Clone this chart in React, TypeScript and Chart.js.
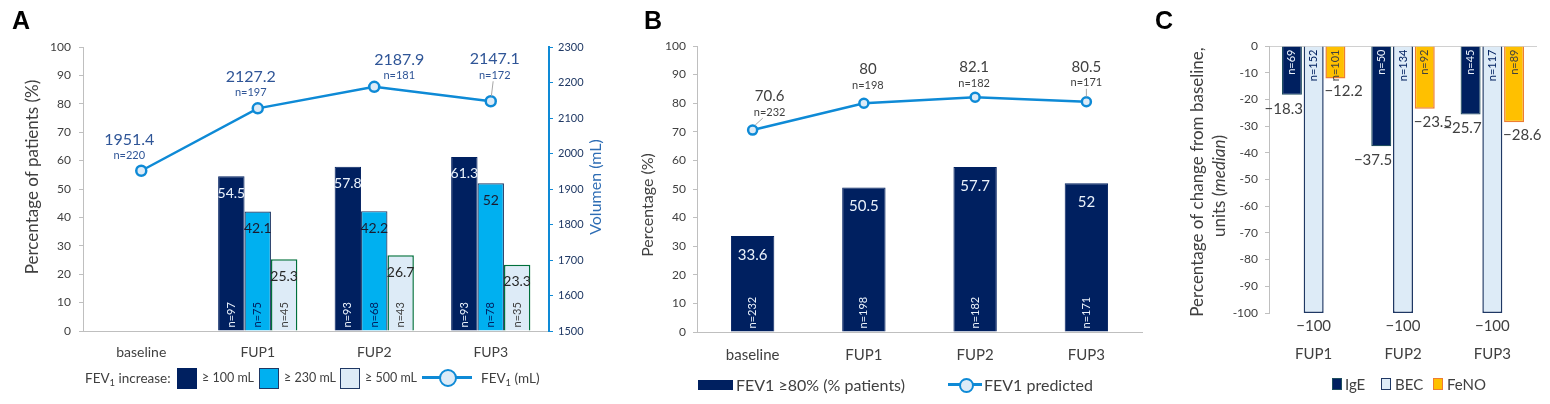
import { useEffect, useRef } from "react";
import Chart from "chart.js/auto";

const FONT = "Lato, 'Noto Sans', sans-serif";
const NAVY = "#002060";
const CYAN = "#00B0F0";
const PALE = "#DDEBF7";
const GREEN = "#00703C";
const BLUE = "#0E8AD6";
const ORANGE = "#FFC000";
const ORANGE_EDGE = "#ED7D31";
const AXIS = "#BFBFBF";
const TEXT = "#404040";
const NTEXT = "#2F5597";

Chart.defaults.font.family = FONT;

// panel A
const visits = ["baseline", "FUP1", "FUP2", "FUP3"];
const fev1Ml = [1951.4, 2127.2, 2187.9, 2147.1];
const fev1MlN = [220, 197, 181, 172];
const inc100 = [null, 54.5, 57.8, 61.3];
const inc100N = [null, 97, 93, 93];
const inc230 = [null, 42.1, 42.2, 52];
const inc230N = [null, 75, 68, 78];
const inc500 = [null, 25.3, 26.7, 23.3];
const inc500N = [null, 45, 43, 35];

// panel B
const fev80 = [33.6, 50.5, 57.7, 52];
const fev80N = [232, 198, 182, 171];
const fevPred = [70.6, 80, 82.1, 80.5];
const fevPredN = [232, 198, 182, 171];

// panel C
const fups = ["FUP1", "FUP2", "FUP3"];
const ige = [-18.3, -37.5, -25.7];
const igeN = [69, 50, 45];
const bec = [-100, -100, -100];
const becN = [152, 134, 117];
const feno = [-12.2, -23.5, -28.6];
const fenoN = [101, 92, 89];

// label placement next to line points (px from the point)
const volLabelShift = [[-12, -31], [-7, -32], [25, -27], [4, -42]];
const volLeader = [false, false, false, true];
const predLabelShift = [[17, -34], [4, -34], [-1, -30], [0, -35]];
const predLeader = [true, false, false, true];

const plain = (v: any) => String(v);

function vText(ctx: CanvasRenderingContext2D, text: string, x: number, y: number, align: CanvasTextAlign) {
  ctx.save();
  ctx.translate(x, y);
  ctx.rotate(-Math.PI / 2);
  ctx.textAlign = align;
  ctx.textBaseline = "middle";
  ctx.fillText(text, 0, 0);
  ctx.restore();
}

function pointLabels(chart: any, dsIndex: number, nList: number[], shift: number[][], leader: boolean[], color: string, size: number) {
  const ctx = chart.ctx;
  const values = chart.data.datasets[dsIndex].data;
  chart.getDatasetMeta(dsIndex).data.forEach((pt: any, i: number) => {
    const lx = pt.x + shift[i][0];
    const ly = pt.y + shift[i][1];
    ctx.fillStyle = color;
    ctx.textAlign = "center";
    ctx.textBaseline = "middle";
    ctx.font = `${size}px ${FONT}`;
    ctx.fillText(String(values[i]), lx, ly);
    ctx.font = `11px ${FONT}`;
    ctx.fillText(`n=${nList[i]}`, lx, ly + 16);
    if (leader[i]) {
      ctx.strokeStyle = "#A6A6A6";
      ctx.lineWidth = 1;
      ctx.beginPath();
      ctx.moveTo(lx + (pt.x - lx) * 0.4, ly + 22);
      ctx.lineTo(pt.x + (lx - pt.x) * 0.15, pt.y - 5);
      ctx.stroke();
    }
  });
}

const panelAMarks = {
  id: "panelAMarks",
  afterDatasetsDraw(chart: any) {
    const ctx = chart.ctx;
    ctx.save();
    const bars = [
      { idx: 1, n: inc100N, color: "#EAF2FB", ncolor: "#EAF2FB" },
      { idx: 2, n: inc230N, color: "#1A1A2E", ncolor: NAVY },
      { idx: 3, n: inc500N, color: "#262626", ncolor: TEXT },
    ];
    bars.forEach((b) => {
      const values = chart.data.datasets[b.idx].data;
      chart.getDatasetMeta(b.idx).data.forEach((el: any, i: number) => {
        if (values[i] == null) return;
        ctx.fillStyle = b.color;
        ctx.font = `14px ${FONT}`;
        ctx.textAlign = "center";
        ctx.textBaseline = "middle";
        ctx.fillText(String(values[i]), el.x, el.y + 17);
        ctx.fillStyle = b.ncolor;
        ctx.font = `11px ${FONT}`;
        vText(ctx, `n=${b.n[i]}`, el.x, el.base - 3, "left");
      });
    });
    pointLabels(chart, 0, fev1MlN, volLabelShift, volLeader, NTEXT, 16);
    ctx.fillStyle = TEXT;
    ctx.font = `17px ${FONT}`;
    vText(ctx, "Percentage of patients (%)", 33, 177, "center");
    ctx.fillStyle = "#2E6DB4";
    ctx.font = `16px ${FONT}`;
    vText(ctx, "Volumen (mL)", 596, 187, "center");
    ctx.restore();
  },
};

const panelBMarks = {
  id: "panelBMarks",
  afterDatasetsDraw(chart: any) {
    const ctx = chart.ctx;
    ctx.save();
    const values = chart.data.datasets[1].data;
    chart.getDatasetMeta(1).data.forEach((el: any, i: number) => {
      ctx.fillStyle = "#EAF2FB";
      ctx.font = `15px ${FONT}`;
      ctx.textAlign = "center";
      ctx.textBaseline = "middle";
      ctx.fillText(String(values[i]), el.x, el.y + 19);
      ctx.font = `11px ${FONT}`;
      vText(ctx, `n=${fev80N[i]}`, el.x, el.base - 3, "left");
    });
    pointLabels(chart, 0, fevPredN, predLabelShift, predLeader, TEXT, 15);
    ctx.fillStyle = TEXT;
    ctx.font = `16px ${FONT}`;
    vText(ctx, "Percentage (%)", 48, 205, "center");
    ctx.restore();
  },
};

const panelCMarks = {
  id: "panelCMarks",
  afterDatasetsDraw(chart: any) {
    const ctx = chart.ctx;
    ctx.save();
    const specs = [
      { idx: 0, n: igeN, ncolor: "#EAF2FB", side: "right" },
      { idx: 1, n: becN, ncolor: NAVY, side: "center" },
      { idx: 2, n: fenoN, ncolor: TEXT, side: "left" },
    ];
    specs.forEach((s) => {
      const values = chart.data.datasets[s.idx].data;
      chart.getDatasetMeta(s.idx).data.forEach((el: any, i: number) => {
        const txt = "\u2212" + Math.abs(values[i]);
        ctx.fillStyle = TEXT;
        ctx.font = `15px ${FONT}`;
        ctx.textBaseline = "middle";
        if (s.side === "right") {
          ctx.textAlign = "right";
          ctx.fillText(txt, el.x + el.width / 2 + 1, el.y + 14);
        } else if (s.side === "left") {
          ctx.textAlign = "left";
          ctx.fillText(txt, el.x - el.width / 2 - 1, el.y + 13);
        } else {
          ctx.textAlign = "center";
          ctx.fillText(txt, el.x, el.y + 13);
        }
        ctx.fillStyle = s.ncolor;
        ctx.font = `11px ${FONT}`;
        vText(ctx, `n=${s.n[i]}`, el.x, el.base + 3, "right");
      });
    });
    // two-line y title with italic "median"
    ctx.fillStyle = TEXT;
    ctx.font = `17px ${FONT}`;
    vText(ctx, "Percentage of change from baseline,", 48, 182, "center");
    const parts = [
      { t: "units (", f: `17px ${FONT}` },
      { t: "median", f: `italic 17px ${FONT}` },
      { t: ")", f: `17px ${FONT}` },
    ];
    let total = 0;
    parts.forEach((p) => {
      ctx.font = p.f;
      total += ctx.measureText(p.t).width;
    });
    ctx.save();
    ctx.translate(70, 186);
    ctx.rotate(-Math.PI / 2);
    ctx.textAlign = "left";
    ctx.textBaseline = "middle";
    let x = -total / 2;
    parts.forEach((p) => {
      ctx.font = p.f;
      ctx.fillText(p.t, x, 0);
      x += ctx.measureText(p.t).width;
    });
    ctx.restore();
    ctx.restore();
  },
};

function makeA(): any {
  return {
    type: "bar",
    data: {
      labels: visits,
      datasets: [
        {
          type: "line", label: "FEV1 (mL)", data: fev1Ml, yAxisID: "yVol", order: 0,
          borderColor: BLUE, borderWidth: 2.5, pointRadius: 5, pointBorderWidth: 2.5,
          pointBackgroundColor: PALE, pointBorderColor: BLUE,
        },
        { label: "≥ 100 mL", data: inc100, yAxisID: "y", order: 1, backgroundColor: NAVY, borderColor: NAVY, borderWidth: 1 },
        { label: "≥ 230 mL", data: inc230, yAxisID: "y", order: 1, backgroundColor: CYAN, borderColor: "#1F3864", borderWidth: 1.2 },
        { label: "≥ 500 mL", data: inc500, yAxisID: "y", order: 1, backgroundColor: PALE, borderColor: GREEN, borderWidth: 1.5 },
      ],
    },
    options: {
      animation: false,
      responsive: true,
      maintainAspectRatio: false,
      layout: { padding: { top: 47, left: 0, right: 0, bottom: 0 } },
      plugins: { legend: { display: false }, tooltip: { enabled: false } },
      datasets: { bar: { categoryPercentage: 0.68, barPercentage: 1 } },
      scales: {
        x: {
          grid: { display: false },
          border: { color: AXIS },
          ticks: { color: TEXT, font: { size: 14 }, padding: 5 },
          afterFit: (s: any) => { s.height = 39; },
        },
        y: {
          position: "left", min: 0, max: 100,
          ticks: { stepSize: 10, color: TEXT, font: { size: 12 }, padding: 8, callback: plain },
          grid: { drawOnChartArea: false, tickLength: 4, color: AXIS },
          border: { color: AXIS },
          afterFit: (s: any) => { s.width = 83; },
        },
        yVol: {
          position: "right", min: 1500, max: 2300,
          ticks: { stepSize: 100, color: "#1F3864", font: { size: 11 }, padding: 5, callback: plain },
          grid: { drawOnChartArea: false, tickLength: 4, color: BLUE },
          border: { color: BLUE, width: 2 },
          afterFit: (s: any) => { s.width = 71; },
        },
      },
    },
    plugins: [panelAMarks],
  };
}

function makeB(): any {
  return {
    type: "bar",
    data: {
      labels: visits,
      datasets: [
        {
          type: "line", label: "FEV1 predicted", data: fevPred, order: 0,
          borderColor: BLUE, borderWidth: 2.5, pointRadius: 4.5, pointBorderWidth: 2.5,
          pointBackgroundColor: PALE, pointBorderColor: BLUE,
        },
        { label: "FEV1 ≥80% (% patients)", data: fev80, order: 1, backgroundColor: NAVY, borderColor: NAVY, borderWidth: 1 },
      ],
    },
    options: {
      animation: false,
      responsive: true,
      maintainAspectRatio: false,
      layout: { padding: { top: 46, left: 0, right: 18, bottom: 0 } },
      plugins: { legend: { display: false }, tooltip: { enabled: false } },
      datasets: { bar: { categoryPercentage: 0.39, barPercentage: 1 } },
      scales: {
        x: {
          grid: { display: false },
          border: { color: AXIS },
          ticks: { color: TEXT, font: { size: 15 }, padding: 6 },
          afterFit: (s: any) => { s.height = 38; },
        },
        y: {
          min: 0, max: 100,
          ticks: { stepSize: 10, color: TEXT, font: { size: 12 }, padding: 7, callback: plain },
          grid: { drawOnChartArea: false, tickLength: 4, color: AXIS },
          border: { color: AXIS },
          afterFit: (s: any) => { s.width = 97; },
        },
      },
    },
    plugins: [panelBMarks],
  };
}

function makeC(): any {
  return {
    type: "bar",
    data: {
      labels: fups,
      datasets: [
        { label: "IgE", data: ige, backgroundColor: NAVY, borderColor: "#1F4E5F", borderWidth: 1.2 },
        { label: "BEC", data: bec, backgroundColor: PALE, borderColor: "#1F3864", borderWidth: 1.5 },
        { label: "FeNO", data: feno, backgroundColor: ORANGE, borderColor: ORANGE_EDGE, borderWidth: 1.5 },
      ],
    },
    options: {
      animation: false,
      responsive: true,
      maintainAspectRatio: false,
      layout: { padding: { top: 46, left: 0, right: 13, bottom: 0 } },
      plugins: { legend: { display: false }, tooltip: { enabled: false } },
      datasets: { bar: { categoryPercentage: 0.73, barPercentage: 0.92 } },
      scales: {
        x: {
          grid: { display: false },
          border: { display: false },
          ticks: { color: TEXT, font: { size: 15 }, padding: 24 },
          afterFit: (s: any) => { s.height = 57; },
        },
        y: {
          min: -100, max: 0,
          ticks: { stepSize: 10, color: TEXT, font: { size: 12 }, padding: 7, callback: plain },
          grid: {
            drawOnChartArea: true, tickLength: 4, tickColor: AXIS,
            color: (c: any) => (c.tick && c.tick.value === 0 ? "#D0D0D0" : "rgba(0,0,0,0)"),
          },
          border: { color: AXIS },
          afterFit: (s: any) => { s.width = 119; },
        },
      },
    },
    plugins: [panelCMarks],
  };
}

function Panel({ left, width, make }: { left: number; width: number; make: () => any }) {
  const canvasRef = useRef<HTMLCanvasElement | null>(null);
  useEffect(() => {
    if (!canvasRef.current) return;
    const chart = new Chart(canvasRef.current, make());
    return () => chart.destroy();
  }, []);
  return (
    <div style={{ position: "absolute", left, top: 0, width, height: 370 }}>
      <canvas ref={canvasRef}></canvas>
    </div>
  );
}

function Txt({ left, y, size, children }: any) {
  return (
    <div style={{ position: "absolute", left, top: y - 12, height: 24, lineHeight: "24px", fontSize: size, whiteSpace: "nowrap", color: TEXT }}>
      {children}
    </div>
  );
}

function Swatch({ left, top, w, h, bg, border }: any) {
  return <div style={{ position: "absolute", left, top, width: w, height: h, background: bg, border: `1.5px solid ${border}`, boxSizing: "border-box" }} />;
}

function LineKey({ left, y, w, r }: any) {
  return (
    <div style={{ position: "absolute", left, top: y - r - 2, width: w, height: 2 * r + 4 }}>
      <div style={{ position: "absolute", left: 0, top: r, width: w, height: 3, background: BLUE }} />
      <div style={{ position: "absolute", left: w / 2 - r - 1, top: 0, width: 2 * r, height: 2 * r, borderRadius: "50%", background: PALE, border: `2.5px solid ${BLUE}` }} />
    </div>
  );
}

const Sub = () => <sub style={{ fontSize: "0.7em", verticalAlign: "-0.3em", lineHeight: 0 }}>1</sub>;

function Letter({ left, children }: any) {
  return <div style={{ position: "absolute", left, top: 6, fontFamily: "'Liberation Sans', Arial, sans-serif", fontWeight: "bold", fontSize: 25 }}>{children}</div>;
}

export default function App() {
  return (
    <div style={{ position: "absolute", left: 0, top: 0, width: 1550, height: 404, background: "#fff", fontFamily: FONT, overflow: "hidden" }}>
      <Panel left={0} width={620} make={makeA} />
      <Panel left={600} width={560} make={makeB} />
      <Panel left={1150} width={400} make={makeC} />
      <Letter left={12}>A</Letter>
      <Letter left={644}>B</Letter>
      <Letter left={1155}>C</Letter>

      <Txt left={85} y={378} size={13.5}>FEV<Sub /> increase:</Txt>
      <Swatch left={177} top={368} w={20} h={21} bg={NAVY} border={NAVY} />
      <Txt left={202} y={378} size={12.5}>≥ 100 mL</Txt>
      <Swatch left={259} top={368} w={20} h={21} bg={CYAN} border="#1F3864" />
      <Txt left={284} y={378} size={12.5}>≥ 230 mL</Txt>
      <Swatch left={340} top={368} w={20} h={21} bg={PALE} border="#1F3864" />
      <Txt left={365} y={378} size={12.5}>≥ 500 mL</Txt>
      <LineKey left={422} y={378} w={50} r={7} />
      <Txt left={481} y={378} size={13.5}>FEV<Sub /> (mL)</Txt>

      <Swatch left={698} top={380} w={35} h={10} bg={NAVY} border={NAVY} />
      <Txt left={736} y={385} size={16}>FEV1 ≥80% (% patients)</Txt>
      <LineKey left={948} y={385} w={34} r={5.5} />
      <Txt left={984} y={385} size={16}>FEV1 predicted</Txt>

      <Swatch left={1332} top={378} w={10} h={12} bg={NAVY} border="#1F4E5F" />
      <Txt left={1345} y={384} size={15}>IgE</Txt>
      <Swatch left={1381} top={378} w={10} h={12} bg={PALE} border="#1F3864" />
      <Txt left={1395} y={384} size={15}>BEC</Txt>
      <Swatch left={1433} top={378} w={10} h={12} bg={ORANGE} border={ORANGE_EDGE} />
      <Txt left={1447} y={384} size={15}>FeNO</Txt>
    </div>
  );
}
